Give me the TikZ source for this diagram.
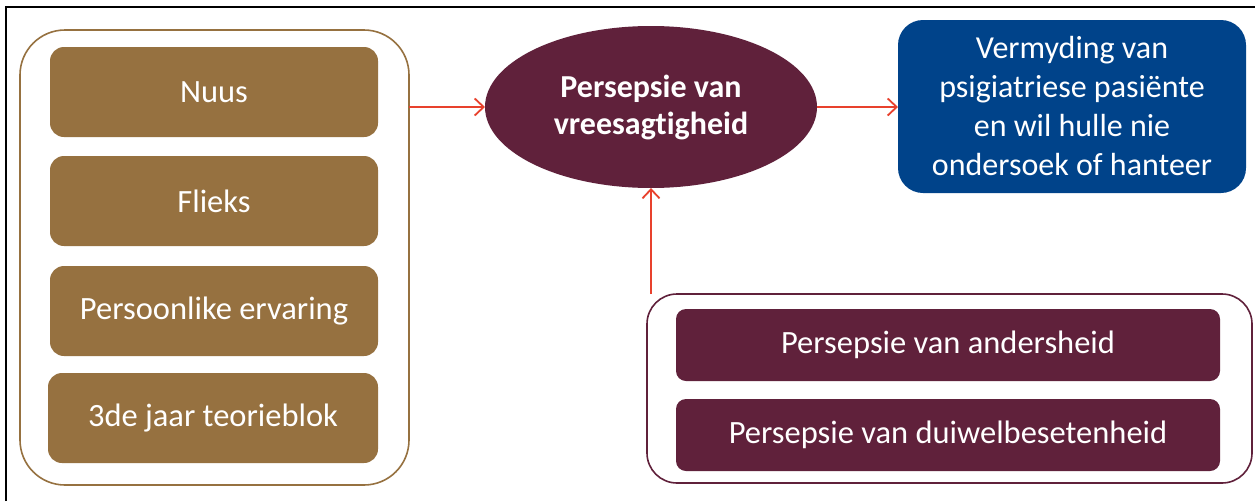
\documentclass[tikz,border=0pt]{standalone}
\usepackage{fontspec}
\setmainfont{Carlito}[Ligatures={NoCommon}]
\usetikzlibrary{arrows.meta,shapes.geometric}
\definecolor{brownc}{RGB}{150,113,64}
\definecolor{maroonc}{RGB}{96,33,59}
\definecolor{bluec}{RGB}{0,67,138}
\definecolor{redc}{RGB}{232,65,45}
\tikzset{
  outerbox/.style={draw, line width=1.6pt, fill=white, inner sep=0pt, outer sep=0pt},
  brownbox/.style={fill=brownc, text=white, rounded corners=14pt, minimum width=328pt, minimum height=90pt, inner sep=0pt, outer sep=0pt, font=\fontsize{32.5}{38}\selectfont},
  maroonbox/.style={fill=maroonc, text=white, rounded corners=10pt, minimum width=544pt, minimum height=72pt, inner sep=0pt, outer sep=0pt, font=\fontsize{32.5}{38}\selectfont},
  link/.style={draw=redc, line width=1.8pt, -{Straight Barb[length=9pt,width=17pt,line width=1.8pt]}},
}
\begin{document}
\begin{tikzpicture}[x=1pt,y=-1pt]
\useasboundingbox (0,0) rectangle (1255,501);
\fill[white] (0,0) rectangle (1255,501);
\coordinate (fbl) at (6,501);
\coordinate (ftl) at (6,7);
\coordinate (ftr) at (1255,7);
\draw[line width=2pt] (fbl) -- (ftl) -- (ftr);

\node[outerbox, draw=brownc, rounded corners=45pt, minimum width=389pt, minimum height=455pt] (left) at (214.5,257.5) {};
\node[brownbox] (nuus) at (214,92) {Nuus};
\node[brownbox] (flieks) at (214,201) {Flieks};
\node[brownbox] (pers) at (214,311) {Persoonlike ervaring};
\node[brownbox, minimum width=330pt] (jaar) at (213,418) {3de jaar teorieblok};

\node[ellipse, fill=maroonc, text=white, minimum width=332pt, minimum height=162pt, inner sep=0pt, outer sep=0pt, align=center, font=\fontsize{32}{37}\selectfont\bfseries] (ell) at (651,107) {Persepsie van\\vreesagtigheid};

\node[fill=bluec, text=white, rounded corners=25pt, minimum width=348pt, minimum height=173pt, inner sep=0pt, outer sep=0pt, align=center, font=\fontsize{32}{39}\selectfont] (blue) at (1072,106.5) {Vermyding van\\psigiatriese pasiënte\\en wil hulle nie\\ondersoek of hanteer};

\node[outerbox, draw=maroonc, rounded corners=30pt, minimum width=605pt, minimum height=189pt] (br) at (949.5,388.5) {};
\node[maroonbox] (ander) at (948,345) {Persepsie van andersheid};
\node[maroonbox] (duiwel) at (948,435) {Persepsie van duiwelbesetenheid};

\draw[link] (ell.west -| left.east) -- (ell.west);
\draw[link] (ell.east) -- (ell.east -| blue.west);
\draw[link] (ell.south |- br.north) -- (ell.south);
\end{tikzpicture}
\end{document}
